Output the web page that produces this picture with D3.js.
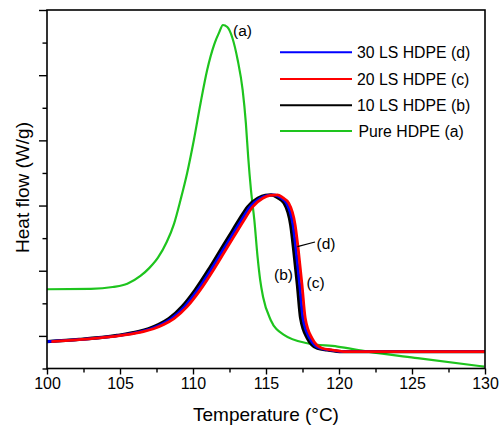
<!DOCTYPE html>
<html>
<head>
<meta charset="utf-8">
<script src="https://cdn.jsdelivr.net/npm/d3@7"></script>
<style>
  html, body { margin: 0; padding: 0; background: #fff; }
  svg { display: block; font-family: "Liberation Sans", Arial, sans-serif; }
</style>
</head>
<body>
<svg id="chart" width="503" height="427"></svg>
<script>
// ---------- DATA ----------
const xTicks = [100, 105, 110, 115, 120, 125, 130];
const xMinorTicks = [102.5, 107.5, 112.5, 117.5, 122.5, 127.5];
const yTicks = [0, 1, 2, 3, 4, 5];
const yMinorTicks = [-0.5, 0.5, 1.5, 2.5, 3.5, 4.5];

// Pure HDPE (a)
const tempA = [100, 103, 104.5, 105.5, 106.4, 107.0, 107.6, 108.2, 108.7, 109.15, 109.6, 110.06, 110.52, 110.97, 111.45, 111.8, 112.05, 112.35, 112.7, 113.06, 113.4, 113.62, 113.78, 113.97, 114.2, 114.43, 114.6, 114.8, 115.32, 116.23, 117.83, 119.89, 121.95, 125.38, 129.95];
const flowA = [0.716, 0.722, 0.75, 0.80, 0.92, 1.04, 1.2, 1.44, 1.72, 2.09, 2.5, 3.006, 3.574, 4.08, 4.47, 4.66, 4.77, 4.739, 4.571, 4.233, 3.773, 3.267, 2.745, 2.239, 1.779, 1.196, 0.859, 0.598, 0.245, 0.015, -0.112, -0.164, -0.241, -0.342, -0.471];

// 10 LS HDPE (b)
const tempB = [100, 102.2, 104.8, 106.25, 106.95, 107.65, 108.35, 109.25, 110.15, 111.05, 111.75, 112.45, 113.15, 113.75, 114.45, 114.95, 115.35, 115.8, 116.23, 116.69, 116.91, 117.15, 117.37, 117.83, 118.52, 119.2, 120.2, 130];
const flowB = [-0.087, -0.054, 0.008, 0.066, 0.11, 0.175, 0.265, 0.449, 0.706, 1.012, 1.268, 1.523, 1.779, 1.983, 2.112, 2.158, 2.165, 2.12, 2.04, 1.70, 1.29, 0.78, 0.27, -0.035, -0.19, -0.215, -0.24, -0.241];

// 20 LS HDPE (c)
const tempC = [100.3, 102.4, 105.1, 106.6, 107.3, 108.0, 108.7, 109.6, 110.5, 111.4, 112.1, 112.8, 113.5, 114.1, 114.78, 115.28, 115.78, 116.15, 116.55, 117.0, 117.23, 117.47, 117.69, 118.15, 118.84, 119.5, 120.5, 130];
const flowC = [-0.087, -0.054, 0.008, 0.066, 0.11, 0.175, 0.265, 0.449, 0.706, 1.012, 1.268, 1.523, 1.779, 1.983, 2.112, 2.155, 2.165, 2.12, 2.04, 1.70, 1.29, 0.78, 0.27, -0.035, -0.19, -0.215, -0.24, -0.241];

// 30 LS HDPE (d)
const tempD = [100, 102.3, 105.0, 106.42, 107.12, 107.82, 108.52, 109.42, 110.32, 111.22, 111.92, 112.62, 113.32, 113.92, 114.62, 115.12, 115.56, 116.0, 116.39, 116.85, 117.07, 117.31, 117.53, 117.99, 118.68, 119.35, 120.35, 130];
const flowD = [-0.087, -0.054, 0.008, 0.066, 0.11, 0.175, 0.265, 0.449, 0.706, 1.012, 1.268, 1.523, 1.779, 1.983, 2.112, 2.157, 2.165, 2.12, 2.04, 1.70, 1.29, 0.78, 0.27, -0.035, -0.19, -0.215, -0.24, -0.241];

const seriesNames = ["30 LS HDPE (d)", "20 LS HDPE (c)", "10 LS HDPE (b)", "Pure HDPE (a)"];
const seriesColors = ["#0000ff", "#ff0000", "#000000", "#1ec41e"];

// ---------- LAYOUT ----------
const svg = d3.select("#chart");
const L = 47, R = 485, T = 10, B = 368.5;

const x = d3.scaleLinear().domain([100, 130]).range([L, R]);
const y = d3.scaleLinear().domain([-0.5, 5]).range([B, T]);

const line = d3.line()
  .x(d => x(d[0]))
  .y(d => y(d[1]))
  .curve(d3.curveMonotoneX);

const zip = (a, b) => a.map((v, i) => [v, b[i]]);

// curves: green first, then black, blue, red
const curves = [
  { data: zip(tempA, flowA), color: seriesColors[3], w: 2.2 },
  { data: zip(tempB, flowB), color: seriesColors[2], w: 3.2 },
  { data: zip(tempD, flowD), color: seriesColors[0], w: 2.8 },
  { data: zip(tempC, flowC), color: seriesColors[1], w: 2.8 }
];

svg.append("clipPath").attr("id", "clip")
  .append("rect").attr("x", L).attr("y", T).attr("width", R - L).attr("height", B - T);

const g = svg.append("g").attr("clip-path", "url(#clip)");
curves.forEach(c => {
  g.append("path")
    .attr("d", line(c.data))
    .attr("fill", "none")
    .attr("stroke", c.color)
    .attr("stroke-width", c.w)
    .attr("stroke-linejoin", "round");
});

// ---------- AXES ----------
const xAxis = d3.axisBottom(x).tickValues(xTicks).tickSize(6).tickPadding(3).tickFormat(d3.format("d"));
const xAxisMinor = d3.axisBottom(x).tickValues(xMinorTicks).tickSize(4).tickFormat("");
const yAxis = d3.axisLeft(y).tickValues(yTicks).tickSize(8).tickFormat("");
const yAxisMinor = d3.axisLeft(y).tickValues(yMinorTicks).tickSize(4.5).tickFormat("");

function styleAxis(sel) {
  sel.select(".domain").remove();
  sel.selectAll(".tick line").attr("stroke", "#000").attr("stroke-width", 1.4);
  sel.selectAll(".tick text").attr("fill", "#000")
    .style("font-family", '"Liberation Sans", Arial, sans-serif')
    .style("font-size", "16px");
}

svg.append("g").attr("transform", `translate(0,${B})`).call(xAxis).call(styleAxis);
svg.append("g").attr("transform", `translate(0,${B})`).call(xAxisMinor).call(styleAxis);
svg.append("g").attr("transform", `translate(${L},0)`).call(yAxis).call(styleAxis);
svg.append("g").attr("transform", `translate(${L},0)`).call(yAxisMinor).call(styleAxis);

// frame
svg.append("rect")
  .attr("x", L).attr("y", T).attr("width", R - L).attr("height", B - T)
  .attr("fill", "none").attr("stroke", "#000").attr("stroke-width", 1.6);

// axis titles
svg.append("text")
  .attr("x", (L + R) / 2).attr("y", 421)
  .attr("text-anchor", "middle")
  .style("font-size", "19px")
  .text("Temperature (°C)");

svg.append("text")
  .attr("transform", "translate(28.5,187.5) rotate(-90)")
  .attr("text-anchor", "middle")
  .style("font-size", "19px")
  .text("Heat flow (W/g)");

// ---------- LEGEND ----------
const legY = [52.3, 79, 105.3, 131];
const leg = svg.append("g");
seriesNames.forEach((name, i) => {
  leg.append("line")
    .attr("x1", 280).attr("x2", 352)
    .attr("y1", legY[i]).attr("y2", legY[i])
    .attr("stroke", seriesColors[i]).attr("stroke-width", 2);
  leg.append("text")
    .attr("x", i === 3 ? 358.5 : 357).attr("y", legY[i] + 5.7)
    .style("font-size", "15.8px")
    .text(name);
});

// ---------- ANNOTATIONS ----------
const ann = svg.append("g").style("font-size", "15.5px");
ann.append("text").attr("x", 233).attr("y", 36.3).text("(a)");
ann.append("text").attr("x", 316.5).attr("y", 249).text("(d)");
ann.append("text").attr("x", 274).attr("y", 280).text("(b)");
ann.append("text").attr("x", 306.5).attr("y", 287.5).text("(c)");
ann.append("line")
  .attr("x1", x(117.15)).attr("y1", 246.7)
  .attr("x2", 315).attr("y2", 242)
  .attr("stroke", "#000").attr("stroke-width", 1.2);
</script>
</body>
</html>
